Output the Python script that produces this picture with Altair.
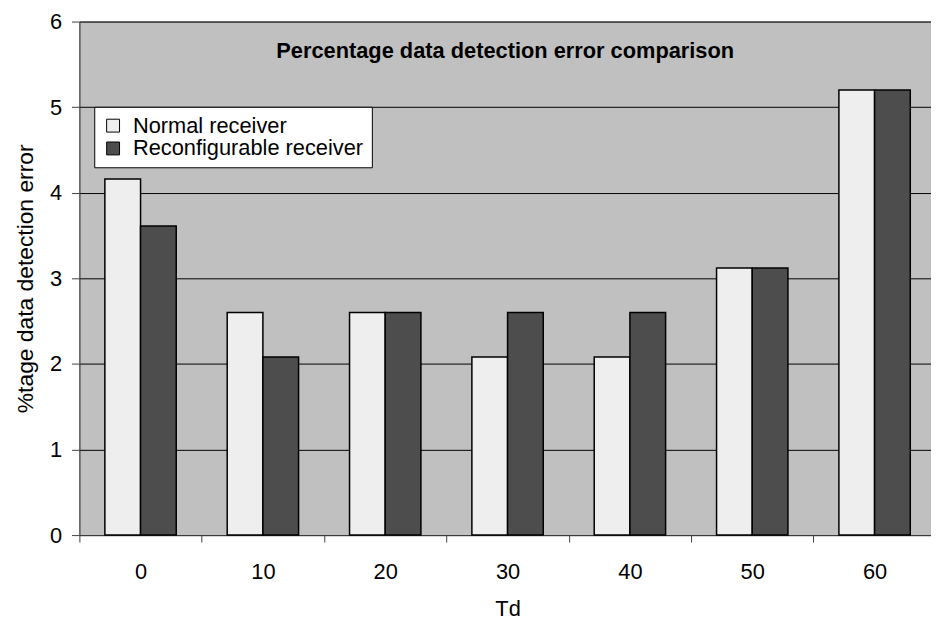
import altair as alt
import pandas as pd

td = ["0", "10", "20", "30", "40", "50", "60"]
normal = [4.16, 2.6, 2.6, 2.08, 2.08, 3.12, 5.2]
reconf = [3.61, 2.08, 2.6, 2.6, 2.6, 3.12, 5.2]
series = ["Normal receiver", "Reconfigurable receiver"]
colors = ["#EEEEEE", "#4D4D4D"]
title_text = "Percentage data detection error comparison"

rows = []
for i, t in enumerate(td):
    rows.append({"Td": t, "series": series[0], "value": normal[i]})
    rows.append({"Td": t, "series": series[1], "value": reconf[i]})
df = pd.DataFrame(rows)

FONT = "Liberation Sans"
W, H = 859, 518
STEP = 123.4

bars = alt.Chart(df).mark_bar(stroke="black", strokeWidth=1.5).encode(
    x=alt.X("Td:N", sort=td,
            scale=alt.Scale(range=[0, STEP * 7], paddingInner=0, paddingOuter=0),
            axis=alt.Axis(title="Td", labelAngle=0, tickOffset=-STEP / 2, labelOffset=STEP / 2,
                          tickSize=7, labelPadding=20, titlePadding=16,
                          domainColor="#404040", tickColor="#404040",
                          labelFontSize=22, titleFontSize=22, titleFontWeight="normal",
                          labelFont=FONT, titleFont=FONT, labelColor="black", titleColor="black")),
    xOffset=alt.XOffset("series:N", sort=series,
                        scale=alt.Scale(paddingInner=0, paddingOuter=0.714)),
    y=alt.Y("value:Q", scale=alt.Scale(domain=[0, 6]),
            axis=alt.Axis(title="%tage data detection error", values=[0, 1, 2, 3, 4, 5, 6],
                          tickSize=8, labelPadding=10, titlePadding=12,
                          grid=True, gridColor="black", gridOpacity=1, gridWidth=1,
                          domainColor="#404040", tickColor="#404040",
                          labelFontSize=22, titleFontSize=23, titleFontWeight="normal",
                          labelFont=FONT, titleFont=FONT, labelColor="black", titleColor="black")),
    fill=alt.Fill("series:N", sort=series,
                  scale=alt.Scale(domain=series, range=colors),
                  legend=alt.Legend(title=None, orient="none", legendX=15, legendY=86,
                                    fillColor="white", strokeColor="black", padding=8,
                                    symbolType="square", symbolSize=169, symbolStrokeColor="black",
                                    symbolStrokeWidth=1, labelFontSize=22, labelFont=FONT,
                                    labelColor="black", rowPadding=1, labelOffset=9,
                                    labelLimit=0)),
)

ttl = alt.Chart(pd.DataFrame({"t": [title_text]})).mark_text(
    font=FONT, fontSize=22, fontWeight="bold", color="black", baseline="alphabetic", align="center"
).encode(text="t:N", x=alt.value(W / 2), y=alt.value(37))

chart = alt.layer(bars, ttl).properties(
    width=W, height=H,
    background="white",
    autosize=alt.AutoSizeParams(type="none"),
    padding={"left": 72, "top": 11, "right": 0, "bottom": 86},
).configure_view(fill="#C0C0C0", stroke="#808080", strokeWidth=1)

chart.save("out.html", embed_options={"renderer": "svg", "actions": False})
